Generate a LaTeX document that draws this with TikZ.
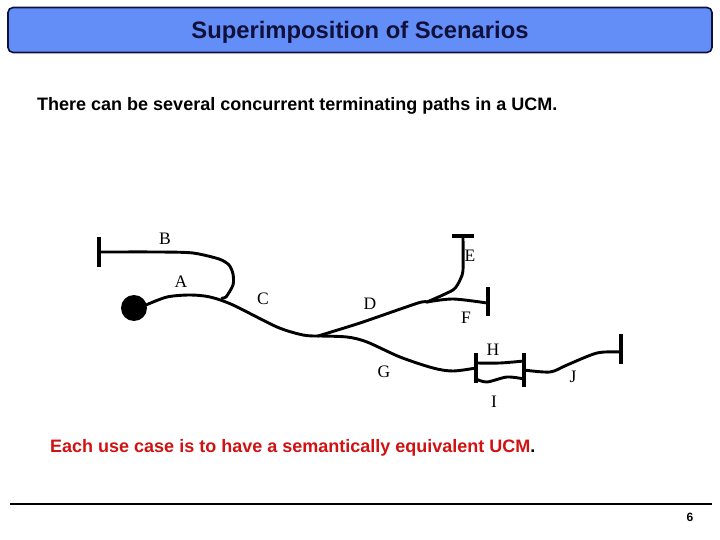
\documentclass[tikz,border=0pt]{standalone}
\usepackage{fontspec}
\setmainfont{Liberation Serif}
\newfontfamily\arialfont{Liberation Sans}
\definecolor{titleblue}{RGB}{99,142,247}
\definecolor{titleink}{RGB}{16,16,60}
\definecolor{redink}{RGB}{208,18,18}
\begin{document}
\begin{tikzpicture}[x=1pt,y=-1pt,
  ucmpath/.style={line width=2.9pt, line join=round, line cap=round},
  ucmbar/.style={line width=3.8pt},
  lbl/.style={font=\fontsize{17.5}{17.5}\selectfont, inner sep=0pt},
  sanstext/.style={font=\arialfont\bfseries\fontsize{18}{18}\selectfont, inner sep=0pt}]
\useasboundingbox (0,0) rectangle (720,540);
\fill[white] (0,0) rectangle (720,540);
% title
\node[draw=titleink, fill=titleblue, rounded corners=5pt, line width=1.6pt,
  minimum width=704pt, minimum height=45pt, inner sep=0pt, text depth=0pt,
  text=titleink, font=\arialfont\bfseries\fontsize{23.8}{23.8}\selectfont] (title) at (360,30)
  {Superimposition of Scenarios};
\node[sanstext, anchor=base west] (intro) at (37,111)
  {There can be several concurrent terminating paths in a UCM.};
\node[sanstext, anchor=base west, text=redink] (note) at (50,452)
  {Each use case is to have a semantically equivalent UCM\textcolor{black}{.}};
% footer
\coordinate (footl) at (10,504);
\coordinate (footr) at (712,504);
\draw[line width=2pt] (footl) -- (footr);
\node[font=\arialfont\bfseries\fontsize{12}{12}\selectfont, inner sep=0pt] (page) at (690,517) {6};
% junction coordinates
\coordinate (startpt) at (134,308);
\coordinate (bjoin) at (222,298);
\coordinate (orfork) at (318,336);
\coordinate (efork) at (427,302);
\coordinate (andfork) at (476,368);
\coordinate (andjoin) at (524,370);
% start point
\fill (startpt) circle (13pt);
% B path and its end bar
\draw[ucmbar] (99,237) -- (99,267);
\draw[ucmpath] plot[smooth, tension=0.45] coordinates
  {(99,252) (160,252) (193,253) (219,259) (229,265) (233,274) (233,285) (226,297) (bjoin)};
% A / C path
\draw[ucmpath] plot[smooth, tension=0.5] coordinates
  {(146,305) (167,297) (190,295) (210,297) (233,305) (277,327) (303,335) (orfork)};
% D path
\draw[ucmpath] plot[smooth, tension=0.4] coordinates
  {(orfork) (360,323) (418,303) (efork)};
% E path and bar
\draw[ucmpath] plot[smooth, tension=0.4] coordinates
  {(463,237) (463,270) (460,280) (453,290) (efork)};
\draw[ucmbar] (452,236) -- (474,236);
% F path and bar
\draw[ucmpath] plot[smooth, tension=0.5] coordinates
  {(efork) (453,299) (487,303)};
\draw[ucmbar] (488,287) -- (488,316);
% G path
\draw[ucmpath] plot[smooth, tension=0.5] coordinates
  {(orfork) (347,337) (367,342) (400,357) (433,368) (453,371) (andfork)};
% AND fork / join bars
\draw[ucmbar] (476,353) -- (476,383);
\draw[ucmbar] (524,353) -- (524,387);
% H and I paths
\draw[ucmpath] plot[smooth, tension=0.5] coordinates
  {(476,363) (500,363) (524,361)};
\draw[ucmpath] plot[smooth, tension=0.5] coordinates
  {(476,379) (487,382) (507,377) (524,379)};
% J path and bar
\draw[ucmpath] plot[smooth, tension=0.5] coordinates
  {(andjoin) (550,372) (567,365) (597,353) (620,352)};
\draw[ucmbar] (621,334) -- (621,364);
% labels
\node[lbl] (lb) at (165,239) {B};
\node[lbl] (la) at (181,282) {A};
\node[lbl] (lc) at (263,299) {C};
\node[lbl] (ld) at (370,304) {D};
\node[lbl] (le) at (470,256) {E};
\node[lbl] (lf) at (466,318) {F};
\node[lbl] (lg) at (384,372) {G};
\node[lbl] (lh) at (493,350) {H};
\node[lbl] (li) at (494,402) {I};
\node[lbl] (lj) at (573,377) {J};
\end{tikzpicture}
\end{document}
